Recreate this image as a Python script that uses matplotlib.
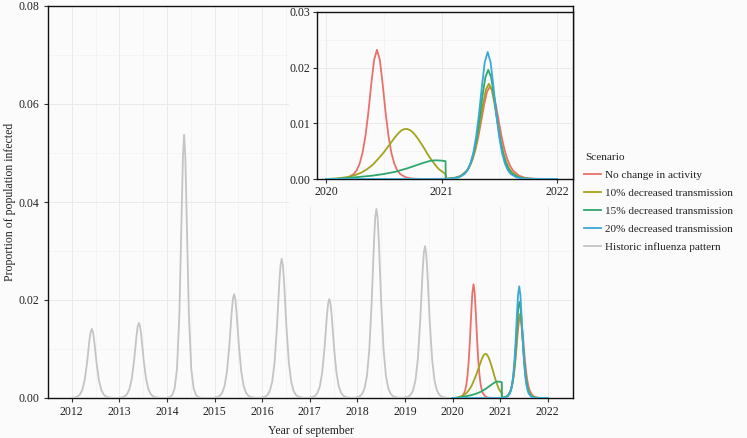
import matplotlib
matplotlib.use("Agg")
import matplotlib.pyplot as plt
from matplotlib.lines import Line2D
from matplotlib.patches import Rectangle
from matplotlib.ticker import MultipleLocator, FormatStrFormatter

plt.rcParams['font.family'] = ['Liberation Serif', 'DejaVu Serif']

# ---------------- data ----------------
hist_years = [
    2012.0, 2012.07, 2012.12, 2012.17, 2012.22, 2012.27, 2012.32, 2012.37, 2012.395, 2012.42, 2012.445, 2012.47, 2012.52, 2012.57, 2012.62, 2012.67, 2012.72, 2012.77, 2012.87,
    2012.96, 2013.06, 2013.11, 2013.16, 2013.21, 2013.26, 2013.31, 2013.36, 2013.385, 2013.41, 2013.435, 2013.46, 2013.51, 2013.56, 2013.61, 2013.66, 2013.71, 2013.76, 2013.86,
    2013.91, 2014.01, 2014.06, 2014.11, 2014.16, 2014.21, 2014.26, 2014.31, 2014.335, 2014.36, 2014.385, 2014.41, 2014.46, 2014.51, 2014.56, 2014.61, 2014.66, 2014.71, 2014.81,
    2014.96, 2015.06, 2015.11, 2015.16, 2015.21, 2015.26, 2015.31, 2015.36, 2015.385, 2015.41, 2015.435, 2015.46, 2015.51, 2015.56, 2015.61, 2015.66, 2015.71, 2015.76, 2015.86,
    2015.96, 2016.06, 2016.11, 2016.16, 2016.21, 2016.26, 2016.31, 2016.36, 2016.385, 2016.41, 2016.435, 2016.46, 2016.51, 2016.56, 2016.61, 2016.66, 2016.71, 2016.76, 2016.86,
    2016.96, 2017.06, 2017.11, 2017.16, 2017.21, 2017.26, 2017.31, 2017.36, 2017.385, 2017.41, 2017.435, 2017.46, 2017.51, 2017.56, 2017.61, 2017.66, 2017.71, 2017.76, 2017.86,
    2017.95, 2018.05, 2018.10, 2018.15, 2018.20, 2018.25, 2018.30, 2018.35, 2018.375, 2018.40, 2018.425, 2018.45, 2018.50, 2018.55, 2018.60, 2018.65, 2018.70, 2018.75, 2018.85,
    2018.97, 2019.07, 2019.12, 2019.17, 2019.22, 2019.27, 2019.32, 2019.37, 2019.395, 2019.42, 2019.445, 2019.47, 2019.52, 2019.57, 2019.62, 2019.67, 2019.72, 2019.77, 2019.87,
    2020.0,
]
hist_values = [
    0.00004, 0.00013, 0.0003, 0.00071, 0.00164, 0.0036, 0.00715, 0.01173, 0.01345, 0.0141, 0.01345, 0.01173, 0.00715, 0.0036, 0.00164, 0.00071, 0.0003, 0.00013, 0.00002,
    0.00002, 0.00014, 0.00033, 0.00077, 0.00178, 0.0039, 0.00776, 0.01273, 0.0146, 0.0153, 0.0146, 0.01273, 0.00776, 0.0039, 0.00178, 0.00077, 0.00033, 0.00014, 0.00002,
    0.00001, 0.00005, 0.00018, 0.0006, 0.00191, 0.00596, 0.01702, 0.03866, 0.0493, 0.0537, 0.0493, 0.03866, 0.01702, 0.00596, 0.00191, 0.0006, 0.00018, 0.00005, 0.00001,
    0.00003, 0.00019, 0.00045, 0.00107, 0.00246, 0.0054, 0.01075, 0.01764, 0.02022, 0.0212, 0.02022, 0.01764, 0.01075, 0.0054, 0.00246, 0.00107, 0.00045, 0.00019, 0.00003,
    0.00005, 0.00026, 0.00061, 0.00143, 0.00329, 0.00724, 0.0144, 0.02363, 0.02709, 0.0284, 0.02709, 0.02363, 0.0144, 0.00724, 0.00329, 0.00143, 0.00061, 0.00026, 0.00005,
    0.00003, 0.00018, 0.00043, 0.00102, 0.00234, 0.00515, 0.01024, 0.01681, 0.01927, 0.0202, 0.01927, 0.01681, 0.01024, 0.00515, 0.00234, 0.00102, 0.00043, 0.00018, 0.00003,
    0.00006, 0.00035, 0.00083, 0.00194, 0.00448, 0.00984, 0.01957, 0.03212, 0.03682, 0.0386, 0.03682, 0.03212, 0.01957, 0.00984, 0.00448, 0.00194, 0.00083, 0.00035, 0.00006,
    0.00005, 0.00028, 0.00066, 0.00156, 0.0036, 0.0079, 0.01572, 0.02579, 0.02957, 0.031, 0.02957, 0.02579, 0.01572, 0.0079, 0.0036, 0.00156, 0.00066, 0.00028, 0.00005,
    0.0,
]

red_years = [2020.0, 2020.04, 2020.09, 2020.14, 2020.19, 2020.24, 2020.265, 2020.29, 2020.315, 2020.34,
             2020.365, 2020.39, 2020.415, 2020.44, 2020.465, 2020.49, 2020.515, 2020.54, 2020.565,
             2020.59, 2020.615, 2020.64, 2020.69, 2020.74, 2020.79, 2020.84,
             2021.02, 2021.07, 2021.12, 2021.17, 2021.22, 2021.245, 2021.27, 2021.295, 2021.32, 2021.345,
             2021.37, 2021.395, 2021.42, 2021.445, 2021.47, 2021.495, 2021.52, 2021.545, 2021.57,
             2021.595, 2021.62, 2021.67, 2021.72, 2021.77, 2021.82, 2022.0]
red_values = [0, 0.00001, 0.00003, 0.000094, 0.00029, 0.00092, 0.0016, 0.00277, 0.00472, 0.00772,
              0.01189, 0.01695, 0.02138, 0.0232, 0.02138, 0.01695, 0.01189, 0.00772, 0.00472,
              0.00277, 0.0016, 0.00092, 0.00029, 0.000094, 0.00003, 0.00001,
              0.00004, 0.000095, 0.00024, 0.00061, 0.00151, 0.00236, 0.00359, 0.00533, 0.00769, 0.01053,
              0.01344, 0.01573, 0.0166, 0.01573, 0.01344, 0.01053, 0.00769, 0.00533, 0.00359,
              0.00236, 0.00151, 0.00061, 0.00024, 0.000095, 0.00004, 0]

olive_years = [2020.0, 2020.1, 2020.2, 2020.25, 2020.3, 2020.35, 2020.4, 2020.45, 2020.5, 2020.525,
               2020.55, 2020.575, 2020.6, 2020.625, 2020.65, 2020.675, 2020.7, 2020.725, 2020.75,
               2020.775, 2020.8, 2020.825, 2020.85, 2020.875, 2020.9, 2020.925, 2020.95, 2020.975,
               2021.0, 2021.035, 2021.04, 2021.06, 2021.11, 2021.16, 2021.21, 2021.235, 2021.26, 2021.285,
               2021.31, 2021.335, 2021.36, 2021.385, 2021.41, 2021.435, 2021.46, 2021.485, 2021.51,
               2021.535, 2021.56, 2021.585, 2021.61, 2021.66, 2021.71, 2021.76, 2021.81, 2022.0]
olive_values = [0, 0.0001, 0.0004, 0.0007, 0.0011, 0.0017, 0.0025, 0.0036, 0.0048, 0.0055,
                0.0062, 0.0069, 0.0076, 0.0082, 0.0087, 0.00895, 0.0090, 0.0088, 0.0084,
                0.0078, 0.0071, 0.0063, 0.0055, 0.0046, 0.0038, 0.0031, 0.0024, 0.0018,
                0.0014, 0.0009, 0.00004, 0.00006, 0.00017, 0.00045, 0.00121, 0.00195, 0.00309, 0.0048,
                0.00718, 0.0102, 0.01345, 0.01607, 0.0171, 0.01607, 0.01345, 0.0102, 0.00718,
                0.0048, 0.00309, 0.00195, 0.00121, 0.00045, 0.00017, 0.00006, 0.00002, 0]

green_years = [2020.0, 2020.1, 2020.2, 2020.3, 2020.4, 2020.5, 2020.6, 2020.7, 2020.8, 2020.85, 2020.9,
               2020.95, 2021.0, 2021.035, 2021.036, 2021.055, 2021.105, 2021.155, 2021.205, 2021.23,
               2021.255, 2021.28, 2021.305, 2021.33, 2021.355, 2021.38, 2021.405, 2021.43, 2021.455,
               2021.48, 2021.505, 2021.53, 2021.555, 2021.58, 2021.605, 2021.655, 2021.705, 2021.755,
               2021.805, 2022.0]
green_values = [0, 0.00005, 0.0002, 0.0004, 0.0006, 0.0009, 0.0013, 0.0019, 0.0026, 0.00295, 0.00325,
                0.00336, 0.0033, 0.0032, 0.00003, 0.00005, 0.00013, 0.00038, 0.00108, 0.0018,
                0.00296, 0.00479, 0.00743, 0.01097, 0.01494, 0.01828, 0.0196, 0.01828, 0.01494,
                0.01097, 0.00743, 0.00479, 0.00296, 0.0018, 0.00108, 0.00038, 0.00013, 0.00005,
                0.00002, 0]

blue_years = [2020.0, 2021.0, 2021.05, 2021.10, 2021.15, 2021.20, 2021.225, 2021.25, 2021.275, 2021.30,
              2021.325, 2021.35, 2021.375, 2021.40, 2021.425, 2021.45, 2021.475, 2021.50, 2021.525,
              2021.55, 2021.575, 2021.60, 2021.65, 2021.70, 2021.75, 2021.80, 2022.0]
blue_values = [0, 0, 0.00003, 0.000092, 0.00029, 0.0009, 0.00158, 0.00272, 0.00464, 0.00759,
               0.01169, 0.01665, 0.02101, 0.0228, 0.02101, 0.01665, 0.01169, 0.00759, 0.00464,
               0.00272, 0.00158, 0.0009, 0.00029, 0.000092, 0.00003, 0.00001, 0]

scenario_labels = ["No change in activity", "10% decreased transmission", "15% decreased transmission",
                   "20% decreased transmission", "Historic influenza pattern"]
main_ticks = list(range(2012, 2023))
inset_ticks = [2020, 2021, 2022]

# ---------------- style ----------------
BG = '#FBFBFB'
colors = ['#E8716B', '#A3A31C', '#2EA76C', '#3BA9D8', '#C4C4C4']
TXT = '#222222'
LW = 1.3

fig = plt.figure(figsize=(7.47, 4.38), dpi=100, facecolor=BG)
W, H = 747, 438

def fx(px):
    return px / W

def fy(py):
    return 1 - py / H

ax = fig.add_axes([fx(48), fy(398), fx(573) - fx(48), fy(6) - fy(398)])
ax.set_facecolor(BG)

ax.plot(hist_years, hist_values, color=colors[4], lw=LW, zorder=3)
series = [(red_years, red_values), (olive_years, olive_values),
          (green_years, green_values), (blue_years, blue_values)]
for (xs, ys), c in zip(series, colors[:4]):
    ax.plot(xs, ys, color=c, lw=LW, zorder=3)

ax.set_xlim(2011.5, 2022.53)
ax.set_ylim(0, 0.08)
ax.set_xticks(main_ticks)
ax.xaxis.set_minor_locator(MultipleLocator(0.5))
ax.yaxis.set_major_locator(MultipleLocator(0.02))
ax.yaxis.set_minor_locator(MultipleLocator(0.01))
ax.yaxis.set_major_formatter(FormatStrFormatter('%.2f'))
ax.grid(which='major', color='#EAEAEA', lw=0.7, zorder=0)
ax.grid(which='minor', color='#F1F1F1', lw=0.5, zorder=0)
ax.set_axisbelow(True)
ax.tick_params(which='major', length=3, width=0.8, color='#333333', labelsize=8.5, labelcolor=TXT, pad=3)
ax.tick_params(which='minor', length=0)
for s in ax.spines.values():
    s.set_color('#111111')
    s.set_linewidth(1.0)
ax.set_xlabel('Year of september', fontsize=8.5, color=TXT, labelpad=5)
ax.set_ylabel('Proportion of population infected', fontsize=8.5, color=TXT)
ax.yaxis.set_label_coords(-0.061, 0.5)

# background behind inset (covers main grid)
ax.add_patch(Rectangle((fx(289), fy(207)), fx(573) - fx(289), fy(6.5) - fy(207),
                       transform=fig.transFigure, facecolor=BG, edgecolor='none',
                       zorder=2.4, clip_on=False))

# inset
ins = fig.add_axes([fx(317), fy(179), fx(573) - fx(317), fy(12) - fy(179)])
ins.set_facecolor(BG)
for (xs, ys), c in zip(series, colors[:4]):
    ins.plot(xs, ys, color=c, lw=LW, zorder=3)
ins.set_xlim(2019.92, 2022.14)
ins.set_ylim(0, 0.03)
ins.set_xticks(inset_ticks)
ins.xaxis.set_minor_locator(MultipleLocator(0.5))
ins.yaxis.set_major_locator(MultipleLocator(0.01))
ins.yaxis.set_minor_locator(MultipleLocator(0.005))
ins.yaxis.set_major_formatter(FormatStrFormatter('%.2f'))
ins.grid(which='major', color='#EAEAEA', lw=0.7, zorder=0)
ins.grid(which='minor', color='#F1F1F1', lw=0.5, zorder=0)
ins.set_axisbelow(True)
ins.tick_params(which='major', length=3, width=0.8, color='#333333', labelsize=8.5, labelcolor=TXT, pad=2)
ins.tick_params(which='minor', length=0)
for s in ins.spines.values():
    s.set_color('#111111')
    s.set_linewidth(1.0)

# legend
fig.text(fx(585), fy(157), 'Scenario', fontsize=8.1, color=TXT, ha='left', va='center')
handles = [Line2D([0], [0], color=c, lw=LW) for c in colors]
leg = fig.legend(handles, scenario_labels, loc='upper left',
                 bbox_to_anchor=(fx(584), fy(170.5)), frameon=False, fontsize=8.1,
                 handlelength=1.5, handletextpad=0.35,
                 labelspacing=0.72, borderaxespad=0, borderpad=0)
for t in leg.get_texts():
    t.set_color(TXT)

fig.savefig('out.png', dpi=100, facecolor=BG)
